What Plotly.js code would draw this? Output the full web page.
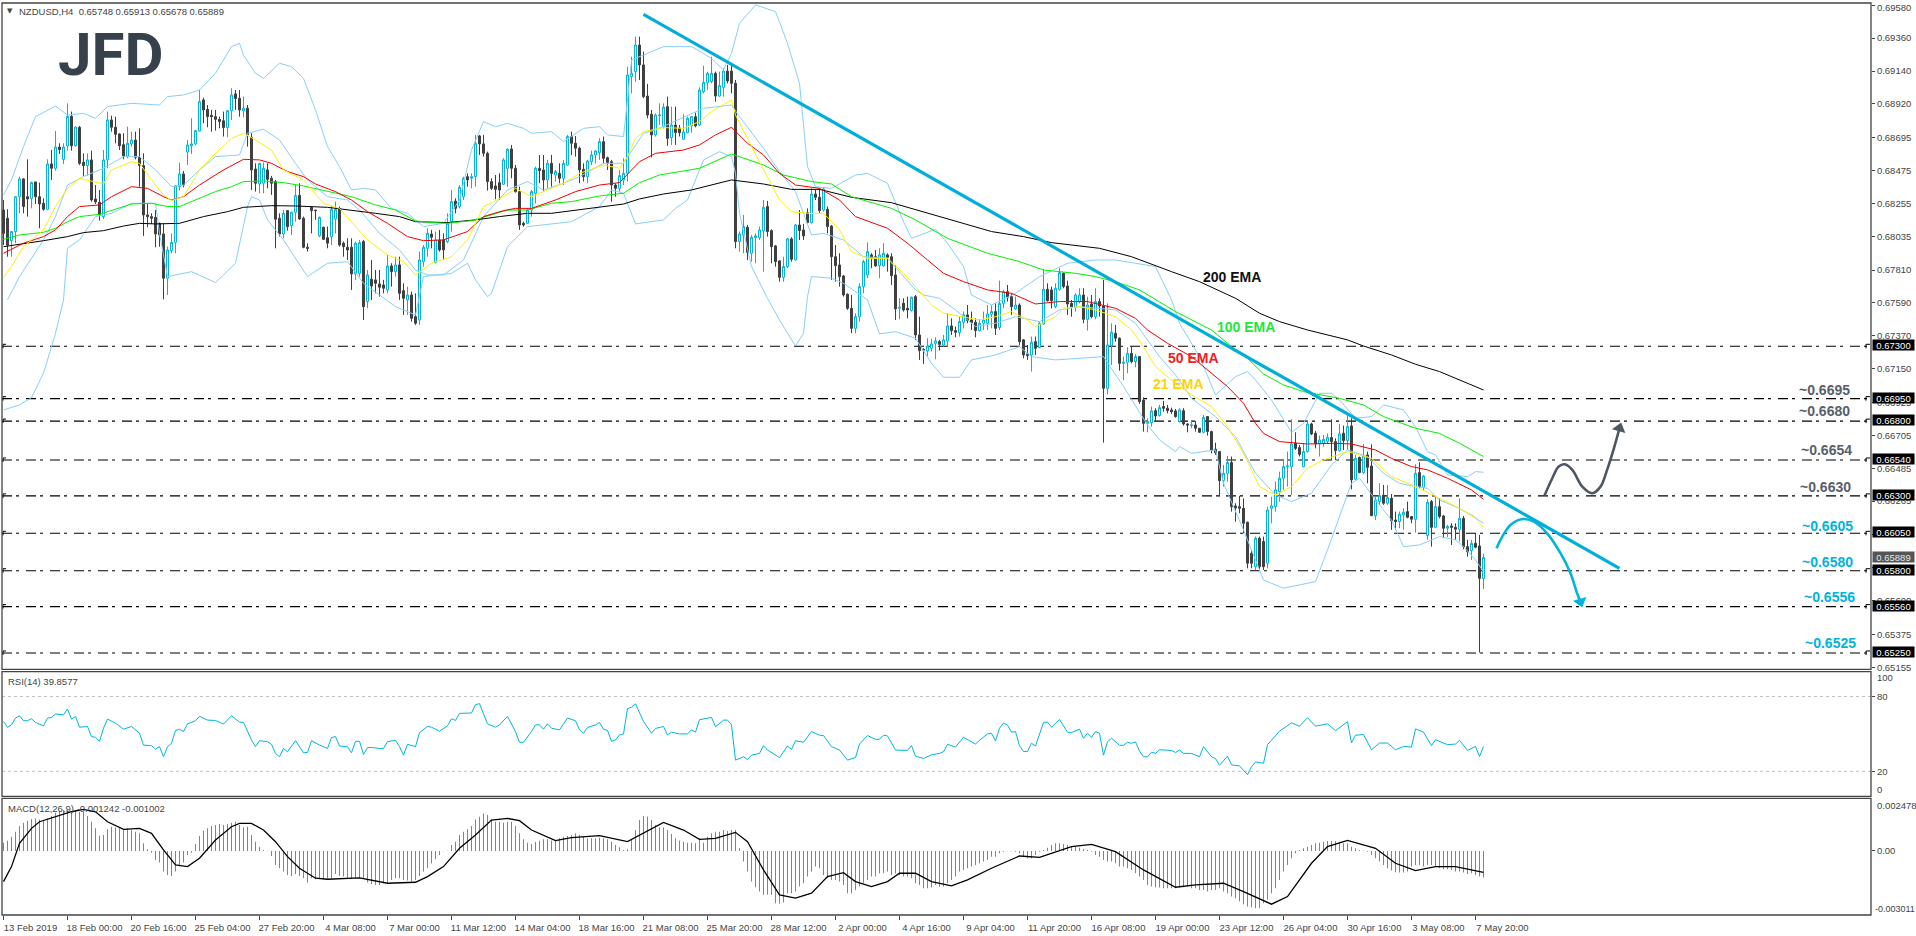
<!DOCTYPE html>
<html><head><meta charset="utf-8">
<script src="https://cdn.plot.ly/plotly-3.0.1.min.js"></script>
<style>html,body{margin:0;padding:0;background:#fff;overflow:hidden}#c{width:1916px;height:936px}</style>
</head><body><div id="c"></div>
<script>
// Candles, prices in 1e-5 units
const opens=[68211,68156,68006,68067,68300,68419,68300,68289,68399,68300,
68256,68216,68519,68490,68632,68550,68639,68837,68641,68764,
68530,68508,68546,68285,68263,68167,68546,68813,68764,68719,
68648,68572,68653,68679,68563,68508,68178,68167,68162,68122,
68051,67755,67940,67995,68367,68452,68599,68641,68653,68739,
68947,68884,68844,68835,68817,68808,68762,68875,68987,68958,
68873,68891,68697,68485,68385,68390,68479,68423,68401,68156,
68051,68207,68107,68196,68309,68156,67962,68229,68211,68038,
68096,68026,68033,68151,68222,67989,67962,67962,67784,67788,
68000,67599,67748,67744,67717,67710,67677,67837,67799,67844,
67672,67610,67643,67498,67476,67866,67955,68051,67859,68011,
68011,68000,68133,68271,68234,68300,68434,68423,68434,68706,
68653,68590,68401,68372,68394,68383,68490,68619,68490,68334,
68122,68122,68211,68323,68490,68479,68412,68523,68445,68456,
68423,68512,68702,68657,68624,68483,68434,68534,68579,68595,
68668,68561,68534,68378,68356,68412,68456,69103,69136,69314,
69181,68973,68851,68713,68842,68768,68902,68695,68779,68759,
68684,68728,68773,68835,68779,69002,69062,69069,69125,68973,
69031,69140,69140,69058,68000,68044,68096,67922,68026,68026,
68071,68234,68073,67971,67871,67761,67833,68018,67877,68111,
68078,68193,68127,68318,68296,68211,68216,68104,67899,67844,
67770,67648,67554,67420,67498,67699,67777,67911,67899,67839,
67837,67911,67899,67777,67554,67588,67554,67539,67632,67376,
67280,67269,67287,67320,67332,67309,67336,67436,67405,67392,
67461,67510,67476,67461,67405,67454,67454,67514,67532,67425,
67587,67665,67632,67550,67576,67343,67249,67242,67331,67293,
67449,67681,67677,67565,67681,67788,67703,67587,67561,67599,
67643,67480,67583,67498,67599,67570,67019,67305,67387,67354,
67186,67193,67253,67198,67231,66941,66785,66790,66870,66837,
66897,66886,66875,66868,66797,66870,66781,66770,66774,66752,
66725,66830,66730,66612,66596,66402,66451,66523,66233,66228,
66217,66124,65916,65827,66017,65995,65850,66217,66228,66328,
66418,66496,66496,66652,66623,66496,66596,66781,66719,66647,
66652,66665,66690,66663,66603,66719,66670,66768,66411,66556,
66456,66574,66500,66168,66262,66306,66251,66284,66139,66128,
66173,66195,66162,66144,66456,66358,66035,66262,66090,66228,
66166,66084,66099,66090,66077,66150,65961,65934,65983,65965,
65748];
const highs=[68278,68216,68067,68300,68434,68423,68550,68401,68399,68394,
68289,68550,68612,68739,68657,68657,68924,68869,68768,68773,
68590,68590,68608,68378,68345,68612,68869,68842,68835,68724,
68724,68768,68735,68735,68757,68590,68256,68189,68211,68127,
68122,67966,68055,68378,68528,68472,68679,68824,68746,69013,
68962,68913,68880,68880,68835,68869,68880,69025,69013,69013,
68969,68913,68724,68523,68523,68528,68523,68439,68412,68189,
68211,68211,68200,68378,68390,68167,67989,68234,68211,68167,
68100,68100,68238,68267,68234,68000,68022,68022,68000,68011,
68011,67810,67877,67810,67810,67744,67911,67855,67899,67899,
67721,67699,67665,67654,67933,67977,68089,68078,68067,68078,
68055,68189,68345,68289,68378,68434,68456,68456,68713,68713,
68713,68601,68423,68445,68456,68557,68624,68646,68512,68367,
68133,68222,68345,68501,68579,68579,68546,68579,68479,68523,
68546,68713,68735,68706,68635,68523,68546,68608,68612,68690,
68702,68568,68546,68390,68479,68557,69169,69236,69370,69370,
69270,69054,68880,68857,68924,68924,68969,68902,68902,68779,
68851,68835,68840,68862,69031,69176,69136,69236,69136,69136,
69158,69181,69181,69080,68067,68178,68111,68044,68055,68100,
68278,68272,68082,67977,67877,67899,68024,68029,68118,68211,
68118,68222,68356,68345,68356,68363,68234,68111,67977,67922,
67777,67654,67643,67521,67721,67877,67995,67922,67944,67955,
67989,67922,67922,67844,67621,67621,67632,67632,67643,67498,
67287,67354,67349,67360,67343,67376,67521,67487,67432,67498,
67532,67576,67532,67487,67481,67532,67576,67576,67587,67739,
67677,67710,67654,67632,67587,67349,67309,67365,67365,67465,
67815,67721,67699,67721,67822,67793,67739,67610,67654,67688,
67688,67632,67643,67688,67621,67744,67587,67454,67443,67360,
67231,67293,67302,67249,67235,66959,66819,66897,66886,66908,
66935,66908,66890,66881,66886,66886,66785,66808,66801,66752,
66841,66834,66736,66656,66600,66507,66567,66563,66251,66300,
66284,66128,65939,66028,66028,66028,66228,66295,66396,66462,
66536,66596,66812,66725,66641,66652,66808,66790,66734,66703,
66708,66718,66812,66685,66781,66770,66841,66819,66574,66563,
66647,66596,66645,66295,66384,66373,66373,66313,66195,66195,
66217,66262,66166,66511,66525,66440,66277,66273,66295,66284,
66173,66106,66117,66117,66284,66166,66006,66006,66050,66039,
65913];
const lows=[67977,67899,67899,67989,68189,68189,68167,68222,68251,68089,
68207,68211,68412,68474,68586,68519,68608,68608,68635,68512,
68439,68441,68267,68251,68140,68151,68490,68735,68657,68612,
68550,68557,68635,68550,68367,68038,68096,68118,67962,67966,
67614,67643,67922,67922,68341,68363,68512,68586,68644,68735,
68791,68764,68735,68742,68757,68702,68697,68813,68880,68835,
68831,68635,68345,68334,68323,68323,68356,68312,67955,68033,
68022,68073,68044,68133,68145,67955,67933,68055,68145,68029,
68011,67955,67977,68055,67966,67899,67877,67677,67744,67766,
67476,67554,67610,67654,67632,67654,67654,67699,67766,67610,
67510,67510,67465,67443,67443,67832,67899,67955,67855,67933,
67877,67989,68067,68189,68222,68278,68367,68356,68367,68579,
68568,68341,68345,68283,68278,68378,68367,68423,68327,68078,
68100,68118,68167,68256,68390,68334,68356,68367,68401,68390,
68378,68508,68579,68568,68390,68401,68390,68512,68523,68546,
68523,68479,68267,68300,68334,68378,68401,68991,69069,69080,
68958,68824,68563,68702,68779,68757,68641,68646,68646,68702,
68679,68724,68728,68764,68773,68991,69013,69058,68935,68969,
68969,69058,68991,67955,67933,67922,67877,67866,67855,68011,
67799,68033,67855,67832,67732,67732,67822,67866,67873,68011,
68011,68122,68122,68278,68189,68200,68055,67744,67732,67699,
67632,67543,67387,67387,67465,67654,67755,67822,67832,67755,
67832,67799,67710,67476,67481,67532,67487,67532,67342,67209,
67182,67235,67265,67213,67271,67298,67298,67376,67360,67365,
67420,67454,67409,67360,67398,67409,67409,67420,67376,67409,
67554,67599,67510,67543,67309,67220,67209,67131,67242,67287,
67443,67599,67554,67554,67672,67688,67510,67498,67532,67587,
67454,67405,67487,67480,67498,66656,66979,67175,67331,67137,
67075,67120,67186,67160,66915,66730,66725,66763,66797,66830,
66863,66852,66848,66823,66790,66770,66725,66752,66730,66723,
66718,66703,66585,66574,66295,66362,66395,66195,66128,66184,
66050,65816,65816,65805,65805,65805,65816,66117,66195,66262,
66340,66362,66306,66607,66563,66491,66589,66707,66618,66563,
66629,66652,66540,66540,66596,66607,66607,66344,66407,66451,
66447,66384,66168,66139,66240,66240,66240,66073,66073,66084,
66073,66150,66117,66055,66351,66340,66006,65961,66084,66150,
66017,66024,65972,66006,65995,65943,65894,65872,65950,65253,
65678];
const closes=[68055,67977,68067,68300,68419,68234,68285,68394,68300,68251,
68216,68519,68490,68632,68615,68632,68837,68641,68766,68523,
68508,68546,68278,68265,68178,68546,68813,68764,68717,68641,
68572,68657,68679,68563,68508,68178,68167,68156,68051,68044,
67755,67944,67995,68372,68452,68378,68646,68653,68742,68935,
68880,68835,68835,68817,68802,68762,68875,68980,68956,68880,
68891,68713,68479,68390,68523,68490,68416,68390,68149,68051,
68189,68100,68196,68307,68151,67962,67955,68207,68207,68162,
68015,67989,68216,68216,67977,67966,67944,67784,67989,67993,
67565,67777,67703,67721,67695,67688,67837,67799,67844,67654,
67621,67643,67487,67454,67877,67962,68055,68029,68011,67944,
67944,68122,68267,68222,68363,68423,68412,68434,68657,68653,
68590,68401,68356,68349,68345,68546,68617,68490,68334,68111,
68111,68211,68334,68490,68474,68412,68523,68456,68468,68423,
68523,68702,68657,68624,68479,68434,68539,68579,68606,68668,
68557,68528,68378,68356,68441,68456,69114,69125,69314,69181,
68969,68846,68713,68846,68846,68898,68690,68779,68728,68728,
68733,68824,68835,68773,69013,69065,69125,69125,68973,69042,
69140,69074,69058,68000,68051,68100,67928,68029,68038,68078,
68229,68067,67966,67866,67761,67833,68018,67882,68111,68073,
68038,68127,68318,68296,68207,68352,68100,67899,67839,67766,
67643,67554,67420,67498,67699,67866,67933,67888,67837,67911,
67922,67895,67772,67550,67561,67543,67543,67628,67376,67271,
67275,67302,67316,67336,67313,67343,67436,67405,67394,67465,
67510,67472,67458,67405,67454,67476,67516,67532,67420,67587,
67665,67628,67565,67576,67331,67242,67238,67327,67287,67454,
67681,67605,67605,67688,67793,67699,67583,67561,67643,67643,
67480,67576,67498,67599,67570,67019,67309,67394,67354,67186,
67193,67253,67198,67231,66930,66785,66797,66868,66834,66890,
66886,66870,66863,66830,66875,66781,66774,66774,66752,66725,
66825,66730,66607,66589,66402,66451,66523,66228,66219,66217,
66117,65850,65850,66017,65827,65827,66206,66233,66340,66418,
66496,66500,66647,66618,66578,66596,66781,66714,66647,66674,
66678,66692,66663,66603,66714,66670,66763,66407,66551,66456,
66567,66491,66168,66273,66302,66251,66289,66135,66128,66177,
66191,66157,66144,66451,66362,66433,66257,66090,66228,66162,
66084,66095,66090,66077,66150,65961,65928,65983,65957,65749,
65889];

// Indicator readings: bar number, then value (1e-5 units)
const ema21Bar=[0,2,5,10,13,16,19,23,25,27,32,34,37,40,42,45,49,53,57,60,63,67,70,75,80,84,87,91,96,100,103,107,112,116,120,125,128,132,136,140,144,150,154,156,158,160,165,170,174,177,182,183,187,191,194,197,201,205,209,212,216,221,225,228,232,235,240,244,248,252,256,258,263,265,269,273,278,282,285,288,293,297,302,306,310,314,318,322,326,330,336,342,347,353,359,364,368,370];
const ema21=[67761,67833,67966,68078,68234,68356,68423,68401,68385,68479,68534,68523,68412,68312,68274,68300,68479,68590,68690,68724,68679,68612,68479,68412,68256,68222,68133,68011,67911,67866,67777,67855,67899,68011,68234,68300,68356,68300,68345,68390,68456,68512,68490,68568,68690,68735,68762,68757,68802,68869,68947,68846,68635,68434,68278,68200,68189,68189,68078,67933,67888,67888,67788,67699,67576,67521,67498,67476,67498,67532,67476,67432,67498,67554,67565,67543,67498,67409,67298,67164,67053,66975,66897,66763,66585,66362,66306,66362,66485,66540,66596,66551,66429,66362,66284,66217,66150,66090];
const ema50Bar=[0,5,10,13,16,19,24,27,32,36,40,42,45,49,55,60,64,67,71,75,78,83,87,91,96,101,105,110,116,120,125,128,132,138,143,149,154,159,163,170,174,178,182,186,190,194,198,204,209,213,221,226,231,235,240,246,252,258,264,271,278,283,286,291,297,300,306,310,313,315,319,326,333,337,343,347,352,356,361,367,370];
const ema50=[67922,67989,68033,68078,68167,68234,68245,68300,68367,68356,68300,68278,68300,68378,68479,68550,68546,68523,68468,68434,68385,68334,68278,68200,68122,68033,68006,68011,68067,68167,68207,68222,68222,68278,68334,68378,68394,68534,68590,68612,68646,68713,68764,68657,68579,68456,68378,68356,68278,68167,68089,67989,67877,67788,67732,67677,67654,67583,67599,67599,67554,67487,67409,67320,67231,67164,67031,66919,66785,66718,66663,66647,66652,66647,66607,66551,66496,66474,66418,66340,66277];
const ema100Bar=[0,4,10,13,16,19,24,28,32,37,41,44,48,53,57,60,65,70,75,81,87,93,98,103,107,111,117,121,126,131,137,142,149,155,159,164,174,182,190,195,202,207,212,222,228,236,246,254,260,268,273,278,284,293,302,307,311,315,320,325,334,340,345,353,359,364,370];
const ema100=[68015,68044,68062,68089,68133,68167,68182,68216,68251,68256,68234,68234,68278,68334,68367,68401,68405,68394,68372,68334,68300,68245,68211,68138,68127,68122,68140,68171,68211,68211,68256,68267,68305,68323,68394,68445,68490,68586,68512,68445,68401,68385,68300,68222,68145,68022,67922,67866,67810,67788,67766,67732,67677,67532,67409,67298,67220,67115,67042,66997,66952,66908,66830,66752,66718,66652,66563];
const ema200Bar=[0,5,10,16,20,25,30,34,38,44,50,56,60,67,73,81,87,93,99,103,111,118,124,131,137,143,149,155,159,165,172,177,182,190,197,204,212,222,231,237,247,255,262,274,282,292,299,308,314,319,326,336,340,347,353,359,364,370];
const ema200=[67966,67984,68006,68033,68060,68073,68104,68122,68118,68122,68167,68200,68229,68240,68238,68229,68211,68189,68167,68133,68127,68145,68167,68189,68189,68211,68234,68251,68285,68318,68345,68378,68412,68385,68349,68349,68296,68260,68189,68145,68067,68033,67993,67955,67899,67799,67732,67621,67521,67465,67409,67343,67302,67242,67180,67131,67075,67008];
const bbUpperBar=[0,2,5,8,13,16,20,23,26,32,39,41,45,49,53,57,59,60,63,65,69,72,75,78,81,84,87,90,93,97,101,103,105,110,114,117,120,123,126,130,132,137,140,145,149,151,155,156,157,160,165,172,177,180,182,184,188,193,196,199,201,203,207,213,216,221,225,227,233,236,240,242,247,253,259,266,273,278,288,292,294,299,303,308,311,313,317,322,325,329,332,334,338,342,345,350,353,356,358,361,366,368,370];
const bbUpper=[68312,68412,68635,68835,68906,68846,68857,68824,68902,68924,68913,68969,68980,69013,69125,69303,69325,69247,69125,69091,69192,69169,69091,68880,68635,68501,68345,68356,68345,68222,68189,68145,68100,68122,68278,68612,68802,68768,68791,68757,68724,68735,68668,68757,68768,68713,68702,68947,69214,69247,69303,69303,69225,69147,69258,69459,69582,69537,69325,69058,68501,68367,68356,68445,68456,68390,68133,68022,68082,67989,67833,67643,67576,67654,67766,67855,67877,67877,67833,67610,67454,67231,66975,67097,67131,67075,66941,66725,66785,66986,66986,66941,66819,66830,66908,66875,66763,66596,66574,66440,66429,66462,66458];
const bbMidBar=[1,4,10,13,16,20,25,30,34,38,42,45,49,53,59,61,65,69,73,76,81,86,89,94,99,103,106,110,115,120,126,131,135,140,144,150,155,160,163,175,182,184,190,194,198,202,205,210,215,221,228,230,234,238,243,248,253,259,264,269,278,283,289,293,297,303,308,313,318,322,327,332,336,341,345,349,353,356,359,363,367,370];
const bbMid=[67610,67766,68011,68167,68378,68434,68490,68568,68568,68479,68367,68378,68479,68568,68579,68724,68751,68679,68523,68412,68300,68278,68211,68055,67944,67810,67777,67777,67877,68167,68345,68401,68345,68390,68434,68523,68523,68724,68746,68891,68913,68835,68624,68468,68334,68044,68055,68011,67899,67888,67677,67643,67621,67543,67432,67454,67498,67465,67543,67565,67543,67454,67231,67109,66953,66830,66696,66451,66306,66262,66318,66507,66607,66563,66451,66384,66362,66351,66273,66228,66173,66117];
const bbLowerBar=[0,4,7,10,13,15,16,19,23,27,32,38,39,41,47,53,58,61,62,64,66,70,76,81,86,90,94,98,103,105,112,116,118,121,122,126,131,142,149,152,155,158,165,168,171,175,179,182,183,184,187,191,194,198,200,201,202,207,210,214,216,219,223,228,232,235,239,242,248,254,257,263,270,275,280,286,289,293,294,297,303,305,310,315,320,328,331,334,337,339,343,347,350,354,359,363,365,368,370];
const bbLower=[66875,66908,66957,67120,67387,67610,67955,68011,68167,68189,68256,68256,68055,67766,67799,67726,67855,68234,68300,68278,68145,68011,67766,67855,67866,67721,67643,67565,67510,67766,67788,67855,67744,67632,67654,67966,68100,68133,68234,68345,68323,68118,68145,68222,68278,68546,68601,68568,68456,68189,67833,67621,67476,67302,67387,67632,67766,67755,67721,67643,67610,67383,67398,67354,67186,67093,67093,67209,67242,67298,67231,67209,67220,67231,67031,66774,66674,66596,66630,66585,66607,66384,66072,65738,65683,65727,65939,66162,66384,66418,66273,66139,65961,65972,66028,66006,65961,65872,65794];

const rsiBar=[0,1,2,3,4,5,6,7,8,10,11,12,13,15,16,17,18,19,21,22,23,24,25,26,28,30,32,34,35,37,38,39,40,41,42,43,44,45,46,48,49,51,53,55,57,59,60,62,63,64,66,67,68,69,70,71,73,75,76,77,79,81,82,83,84,86,87,88,89,90,91,92,94,95,96,98,99,100,101,103,104,106,107,109,111,112,113,114,117,118,119,120,121,123,124,126,128,129,130,132,133,134,135,136,137,139,141,143,144,145,146,148,149,150,151,152,153,154,155,156,157,158,160,162,163,165,166,167,169,171,172,173,174,177,178,180,181,182,183,185,186,187,189,190,191,194,196,197,198,200,202,204,205,207,209,211,213,214,216,218,219,220,221,223,226,227,228,230,232,234,235,236,238,240,243,244,246,247,248,249,250,251,252,253,254,255,256,257,258,260,261,262,264,266,267,269,270,271,272,273,274,275,276,277,279,280,281,282,283,284,285,286,287,288,289,292,293,294,295,297,298,299,300,302,303,304,306,307,309,311,312,313,315,316,319,322,324,326,328,331,333,336,337,338,340,342,344,346,348,350,352,353,355,357,358,361,363,364,366,368,369,370];
const rsi=[60.0,55.4,57.3,62.7,64.6,60.6,60.6,62.2,59.2,56.5,62.7,63.3,66.0,65.4,70.0,61.9,64.1,55.4,56.0,47.9,47.3,44.1,54.6,61.9,58.7,53.8,56.0,50.6,41.1,40.6,37.9,39.8,31.7,39.8,42.5,52.7,53.8,51.9,58.1,60.6,64.1,61.1,60.8,57.9,64.6,59.5,59.2,45.2,39.8,44.6,43.8,41.7,34.4,31.7,38.4,35.7,44.6,34.9,35.2,44.6,41.1,38.4,47.1,47.9,40.3,39.8,34.9,44.1,44.1,33.6,39.0,39.2,38.4,38.4,43.8,44.9,39.8,33.0,41.7,39.8,51.1,56.0,55.4,52.2,56.5,62.2,60.8,66.5,66.8,73.5,74.3,66.8,58.1,55.4,57.3,64.1,51.9,43.3,43.3,51.9,57.3,57.3,53.8,58.1,54.6,53.3,62.7,60.6,53.3,50.6,55.2,57.3,59.2,53.8,52.7,44.1,45.2,49.2,50.0,70.3,71.4,74.1,60.0,50.6,54.4,56.0,49.2,51.4,50.0,50.0,53.3,51.4,61.4,63.3,55.7,61.1,61.1,57.3,29.0,31.7,29.5,33.0,34.4,40.6,37.1,31.1,40.3,37.6,44.6,43.3,51.9,49.0,48.7,39.8,37.1,29.0,31.1,41.9,48.7,45.7,45.7,49.0,48.4,37.1,36.8,40.6,32.2,30.3,33.3,34.4,35.7,41.7,39.5,47.3,41.9,44.9,50.0,50.6,44.4,54.6,58.7,57.1,51.4,51.9,40.6,36.0,36.0,42.5,40.3,59.2,59.5,55.4,61.6,51.4,51.1,53.8,46.5,50.6,47.3,51.9,50.6,33.0,43.8,46.5,40.9,40.9,43.3,42.5,43.6,36.3,31.7,31.7,35.4,34.4,37.3,36.8,35.2,37.1,34.4,34.4,33.0,31.7,39.8,31.7,30.3,24.9,32.2,25.2,24.4,17.4,23.6,27.6,26.5,41.4,52.2,58.9,56.2,63.0,56.2,58.1,52.7,59.8,42.8,49.0,49.5,37.3,42.7,42.7,37.3,40.0,39.5,54.1,51.4,40.6,45.4,41.4,41.9,44.9,36.8,40.0,31.9,39.86];

// MACD main (1e-6 units), read bar by bar: first run starts at bar 0, second run ends at the last bar
const macdStart=[391,485,673,907,1173,1329,1423,1501,1533,1486,1423,1533,1642,1799,1892,1924,1955,1799,1924,1846,1846,1642,1376,1064,719,751,1017,1142,1110,1064,985,1064,985,907,829,360,78,-78,-422,-547,-970,-1126,-1173,-970,-735,-547,-188,-78,328,704,954,1064,1173,1220,1267,1220,1267,1329,1376,1220,1110,1142,751,438,203,47,10,-235,-657,-813,-970,-1126,-1173,-1079,-1173,-1282,-1486,-1282,-1329,-1282,-1329,-1282,-1282,-1079,-1173,-1204,-1282,-1282,-1282,-1282,-1282,-1486,-1548,-1595,-1595,-1517,-1486,-1361,-1282,-1282,-1361,-1392,-1439,-1361,-1173,-970,-813,-579,-391,-188,-10,10,282,438,751,907,1017,1173,1486,1611,1767,1689,1486,1376,1376,1329,1376,1376,1173,829,547,391,328,438,485,547,547,485,485,594,673,704,751,829,751,673,594,594,594,626,594,547,438,282,172,47,78,516,985,1455,1642,1611,1455,1220,1110,1110,985,798,594,485,438,391,391,360,594,391,673,829,907,907,985,938,985,985,125,-500,-970,-1439,-1705,-1908,-2064,-2064,-2064,-2111,-2221,-2424];
const macdEnd=[-2455,-2487,-2143,-1986,-1986,-1908,-1673,-1517,-1204,-970,-735,-813,-1126,-1282,-1361,-1361,-1439,-1595,-1986,-1986,-1830,-1673,-1517,-1361,-1204,-1204,-1048,-1048,-970,-1126,-1048,-1126,-1204,-1204,-1282,-1517,-1595,-1752,-1752,-1705,-1595,-1673,-1673,-1517,-1361,-1204,-970,-891,-813,-735,-657,-579,-500,-422,-266,-266,-109,-31,-16,-16,-31,-109,-266,-344,-344,-188,-31,47,156,282,360,360,328,282,203,203,156,94,47,-31,-188,-266,-422,-500,-500,-579,-735,-735,-813,-891,-1048,-1204,-1361,-1595,-1673,-1705,-1720,-1752,-1752,-1752,-1752,-1720,-1705,-1673,-1752,-1752,-1830,-1830,-1908,-1830,-1830,-1752,-1908,-1986,-2143,-2221,-2377,-2502,-2612,-2643,-2690,-2690,-2455,-2299,-1986,-1752,-1361,-970,-657,-344,-109,47,125,203,282,360,391,438,469,469,469,438,360,360,203,125,47,16,-31,-188,-344,-500,-657,-813,-923,-1001,-1017,-1017,-970,-735,-657,-657,-735,-657,-657,-704,-813,-860,-860,-891,-970,-970,-1017,-1079,-1048,-1126,-1204,-1242];
const signalBar=[0,2,4,7,9,13,17,20,23,26,30,34,37,40,43,46,49,53,57,59,62,65,68,71,74,78,81,89,92,96,103,106,110,114,118,122,126,129,132,138,142,149,156,160,165,170,174,178,183,186,190,194,198,202,206,210,213,217,221,224,228,232,237,241,247,254,259,267,272,278,285,293,298,305,310,317,321,327,331,336,343,348,353,358,363,370];
const signal=[-1439,-735,360,1064,1376,1611,1846,1955,1846,1376,1017,1064,829,47,-657,-735,-344,516,1142,1298,1298,985,438,-266,-813,-1282,-1329,-1267,-1361,-1517,-1470,-1204,-735,125,751,1455,1533,1423,985,485,626,719,438,829,1345,985,547,594,876,438,-891,-2064,-2221,-1986,-1204,-1017,-1439,-1673,-1439,-1048,-1048,-1439,-1642,-1361,-813,-235,-297,203,313,-31,-891,-1705,-1595,-1517,-1908,-2502,-2143,-579,203,500,125,-579,-923,-735,-735,-1002];

// Horizontal levels and axis texts
const levels=[0.6730,0.6695,0.6680,0.6654,0.6630,0.6605,0.6580,0.6556,0.6525];
const levelBox=['0.67300','0.66950','0.66800','0.66540','0.66300','0.66050','0.65800','0.65560','0.65250'];
const levelNotes=['~0.6695','~0.6680','~0.6654','~0.6630','~0.6605','~0.6580','~0.6556','~0.6525'];
const lastPrice=0.65889;
const priceTicks=[0.69580,0.69360,0.69140,0.68920,0.68695,0.68475,0.68255,0.68035,0.67810,0.67590,0.67370,0.67150,0.66925,0.66705,0.66485,0.66265,0.66045,0.65820,0.65600,0.65375,0.65155];
const dateLabels=['13 Feb 2019','18 Feb 00:00','20 Feb 16:00','25 Feb 04:00','27 Feb 20:00','4 Mar 08:00','7 Mar 00:00','11 Mar 12:00','14 Mar 04:00','18 Mar 16:00','21 Mar 08:00','25 Mar 20:00','28 Mar 12:00','2 Apr 00:00','4 Apr 16:00','9 Apr 04:00','11 Apr 20:00','16 Apr 08:00','19 Apr 00:00','23 Apr 12:00','26 Apr 04:00','30 Apr 16:00','3 May 08:00','7 May 20:00'];
const dateBars=[0,16,32,48,64,80,96,112,128,144,160,176,192,208,224,240,256,272,288,304,320,336,352,368];
const trendBar=[160,404], trendPrice=[0.69519,0.65816];
const upPathBar=[385.25,387.2,388.8,390.3,392.2,394.7,397.2,399.25,400.9,402.6,404];
const upPathPrice=[66302,66418,66496,66511,66474,66362,66318,66362,66474,66618,66752];
const downPathBar=[373.25,374.7,376.75,379.5,382.6,385.9,389.25,391.75,393.4,394.25];
const downPathPrice=[65950,66028,66106,66144,66128,66050,65917,65783,65649,65593];

const P=a=>a.map(v=>v/1e5), M=a=>a.map(v=>v/1e6);
const bars=opens.map((_,i)=>i);
const CY='#00B4DC', DK='#404040', BB='#87CEFA', TX='#444444', GR='#4D5762';
const line=(x,y,color,width,name)=>({type:'scatter',mode:'lines',x,y:P(y),name,line:{color,width},xaxis:'x',yaxis:'y',hoverinfo:'skip'});

const traces=[
 {type:'candlestick',x:bars,open:P(opens),high:P(highs),low:P(lows),close:P(closes),xaxis:'x',yaxis:'y',whiskerwidth:0,
  increasing:{line:{color:CY,width:1},fillcolor:'#ffffff'},decreasing:{line:{color:DK,width:1},fillcolor:DK},hoverinfo:'skip'},
 line(bbUpperBar,bbUpper,BB,1,'BB upper'),line(bbMidBar,bbMid,BB,1,'BB mid'),line(bbLowerBar,bbLower,BB,1,'BB lower'),
 line(ema200Bar,ema200,'#000000',1,'200 EMA'),line(ema100Bar,ema100,'#00F000',1,'100 EMA'),
 line(ema50Bar,ema50,'#F00000',1,'50 EMA'),line(ema21Bar,ema21,'#FFF000',1,'21 EMA'),
 {type:'scatter',mode:'lines',x:trendBar,y:trendPrice,line:{color:'#00AEDA',width:3.2},xaxis:'x',yaxis:'y',hoverinfo:'skip'},
 {type:'scatter',mode:'lines',x:upPathBar,y:P(upPathPrice),line:{color:GR,width:2.6,shape:'spline'},xaxis:'x',yaxis:'y',hoverinfo:'skip'},
 {type:'scatter',mode:'markers',x:[upPathBar[10]],y:[upPathPrice[10]/1e5],marker:{symbol:'triangle-up',size:12,color:GR,angle:16},xaxis:'x',yaxis:'y',hoverinfo:'skip'},
 {type:'scatter',mode:'lines',x:downPathBar,y:P(downPathPrice),line:{color:CY,width:2.6,shape:'spline'},xaxis:'x',yaxis:'y',hoverinfo:'skip'},
 {type:'scatter',mode:'markers',x:[downPathBar[9]],y:[downPathPrice[9]/1e5],marker:{symbol:'triangle-up',size:12,color:CY,angle:164},xaxis:'x',yaxis:'y',hoverinfo:'skip'},
 {type:'scatter',mode:'lines',x:rsiBar,y:rsi,line:{color:CY,width:1},xaxis:'x',yaxis:'y2',hoverinfo:'skip'},
 {type:'bar',x:macdStart.map((_,i)=>i),y:M(macdStart),width:0.25,marker:{color:CY,line:{width:0}},xaxis:'x',yaxis:'y3',hoverinfo:'skip'},
 {type:'bar',x:macdEnd.map((_,i)=>371-macdEnd.length+i),y:M(macdEnd),width:0.25,marker:{color:CY,line:{width:0}},xaxis:'x',yaxis:'y3',hoverinfo:'skip'},
 {type:'scatter',mode:'lines',x:signalBar,y:M(signal),line:{color:'#000000',width:1.3},xaxis:'x',yaxis:'y3',hoverinfo:'skip'}
];

// page-pixel helpers for the frame
const L=2,R=1871,T=3,B=915;
const fx=x=>(x-L)/(R-L), fy=y=>(B-y)/(B-T);
const tickFont={family:'"Liberation Sans",Arial,sans-serif',size:9.5,color:TX};
const boldFont=(c,s=14)=>({family:'"Liberation Sans",Arial,sans-serif',size:s,color:c,weight:700});

const note=(text,x,y,font,xanchor='left')=>({text,xref:'paper',yref:'paper',x:fx(x),y:fy(y),xanchor,yanchor:'middle',showarrow:false,font,borderpad:0});
const annotations=[
 note('▼',6,11,{family:'DejaVu Sans',size:7,color:TX}),
 note('NZDUSD,H4  0.65748 0.65913 0.65678 0.65889',18,11,tickFont),
 note('RSI(14) 39.8577',7,681,tickFont),
 note('MACD(12,26,9) -0.001242 -0.001002',7,808,tickFont),
 note('JFD',57,54,{family:'Roboto,"Liberation Sans",sans-serif',size:60,color:'#36414C',weight:700}),
 note('200 EMA',1232,277,boldFont('#111111'),'center'),
 note('100 EMA',1246,327,boldFont('#1EE63C'),'center'),
 note('50 EMA',1193,358,boldFont('#F02020'),'center'),
 note('21 EMA',1178,384,boldFont('#FFD200'),'center'),
 note('0.69580',1876,7,tickFont),
 note('100',1876,677,tickFont),note('0',1876,789,tickFont),
 note('0.002478',1876,805,tickFont),note('-0.003011',1874,909,{...tickFont,size:9})
];
const noteY=[390,411,450,487,526,562,597,643], noteX=[1851,1851,1853,1852,1854,1854,1856,1857];
levelNotes.forEach((t,i)=>annotations.push(note(t,noteX[i],noteY[i],boldFont(i<4?'#596069':'#00B4DC'),'right')));
levels.forEach((p,i)=>annotations.push({text:levelBox[i],xref:'paper',yref:'y',x:fx(1872),y:p,xanchor:'left',yanchor:'middle',yshift:1,showarrow:false,width:41,height:10,align:'center',bgcolor:'#000000',borderpad:0,font:{...tickFont,color:'#ffffff'}}));
annotations.push({text:'0.65889',xref:'paper',yref:'y',x:fx(1872),y:lastPrice,xanchor:'left',yanchor:'middle',showarrow:false,width:41,height:10,align:'center',bgcolor:'#555555',borderpad:0,font:{...tickFont,color:'#e8e8e8'}});

const mainDom=[fy(669.3),1], rsiDom=[fy(796.3),fy(671.6)], macdDom=[0,fy(798.3)];
const dMain=(0.695948-0.651409)/(669.3-3);
const shapes=[];
levels.forEach(p=>{
 shapes.push({type:'line',xref:'paper',yref:'y',x0:0,x1:1,y0:p,y1:p,layer:'below',line:{color:'#000000',width:1.1,dash:'10px,4px,3px,7px'}});
 [[3,6],[1866,1870]].forEach(([a,b])=>shapes.push({type:'path',xref:'paper',yref:'y',layer:'above',line:{color:'#000000',width:1},
   path:`M ${fx(a)} ${p-2*dMain} L ${fx(a)} ${p+2*dMain} L ${fx(b)} ${p+2*dMain}`}));
});
[80,20].forEach(v=>shapes.push({type:'line',xref:'paper',yref:'y2',x0:0,x1:1,y0:v,y1:v,layer:'below',line:{color:'#C0C0C0',width:1,dash:'3px,3px'}}));
[mainDom,rsiDom,macdDom].forEach(d=>shapes.push({type:'rect',xref:'paper',yref:'paper',x0:0,x1:1,y0:d[0],y1:d[1],layer:'above',line:{color:'#444444',width:1.3},fillcolor:'rgba(0,0,0,0)'}));

const layout={
 width:1916,height:936,margin:{l:L,r:1916-R,t:T,b:936-B,pad:0},paper_bgcolor:'#ffffff',plot_bgcolor:'#ffffff',
 showlegend:false,dragmode:false,barmode:'overlay',boxgap:0.5,boxgroupgap:0,hovermode:false,
 xaxis:{type:'linear',range:[-0.375,466.875],anchor:'y3',tickmode:'array',tickvals:dateBars,ticktext:dateLabels,ticks:'outside',ticklen:4,tickcolor:TX,tickfont:tickFont,ticklabelshift:27,showgrid:false,zeroline:false,showline:false,rangeslider:{visible:false},fixedrange:true},
 yaxis:{domain:mainDom,range:[0.651409,0.695948],side:'right',anchor:'x',tickmode:'array',tickvals:priceTicks,ticktext:priceTicks.map(v=>v===0.6958?'':v.toFixed(5)),ticks:'outside',ticklen:3,tickcolor:TX,tickfont:tickFont,showgrid:false,zeroline:false,fixedrange:true},
 yaxis2:{domain:rsiDom,range:[0,100],side:'right',anchor:'x',tickmode:'array',tickvals:[80,20],ticktext:['80','20'],ticks:'outside',ticklen:3,tickcolor:TX,tickfont:tickFont,showgrid:false,zeroline:false,fixedrange:true},
 yaxis3:{domain:macdDom,range:[-0.003011,0.002478],side:'right',anchor:'x',tickmode:'array',tickvals:[0],ticktext:['0.00'],ticks:'outside',ticklen:3,tickcolor:TX,tickfont:tickFont,showgrid:false,zeroline:false,fixedrange:true},
 annotations,shapes
};
Plotly.newPlot('c',traces,layout,{displayModeBar:false,staticPlot:true});
</script></body></html>
